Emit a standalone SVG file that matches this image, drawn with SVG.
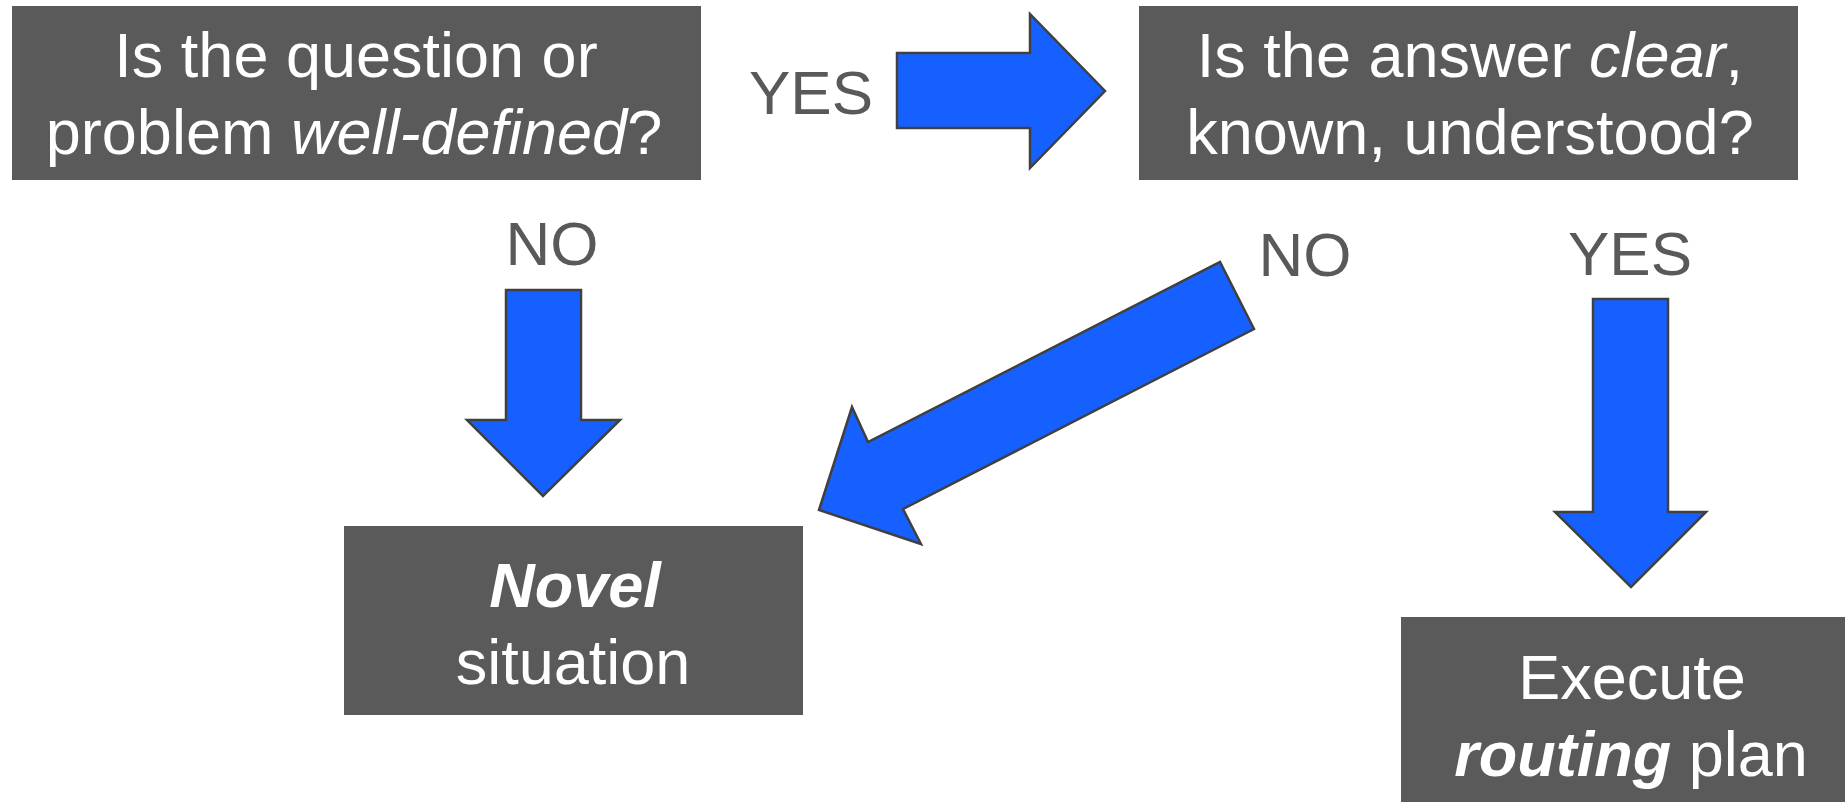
<svg xmlns="http://www.w3.org/2000/svg" width="1845" height="802" viewBox="0 0 1845 802">
<style>
.box{fill:#5a5a5a}
.bt{font-family:"Liberation Sans",Arial,sans-serif;font-size:63px;fill:#ffffff;text-anchor:middle}
.lbl{font-family:"Liberation Sans",Arial,sans-serif;font-size:62px;fill:#595959;text-anchor:middle}
.arrow{fill:#1560ff;stroke:#404040;stroke-width:2.5;stroke-linejoin:miter}
</style>
<rect width="1845" height="802" fill="#ffffff"/>
<g id="q1">
<rect class="box" x="12" y="6" width="689" height="174"/>
<text class="bt" x="356" y="77">Is the question or</text>
<text class="bt" x="354" y="154">problem <tspan font-style="italic">well-defined</tspan>?</text>
</g>
<g id="q2">
<rect class="box" x="1139" y="6" width="659" height="174"/>
<text class="bt" x="1470" y="77">Is the answer <tspan font-style="italic">clear</tspan>,</text>
<text class="bt" x="1470" y="154">known, understood?</text>
</g>
<g id="novel">
<rect class="box" x="344" y="526" width="459" height="189"/>
<text class="bt" x="575" y="607" font-weight="bold" font-style="italic">Novel</text>
<text class="bt" x="573" y="684">situation</text>
</g>
<g id="execute">
<rect class="box" x="1401" y="617" width="470" height="200"/>
<text class="bt" x="1632" y="699">Execute</text>
<text class="bt" x="1631" y="776"><tspan font-weight="bold" font-style="italic">routing</tspan> plan</text>
</g>
<g id="connectors">
<polygon class="arrow" points="897,53 1030,53 1030,14 1105,91 1030,168 1030,128 897,128"/>
<polygon class="arrow" points="506,290 581,290 581,420 620,420 543,496 467,420 506,420"/>
<polygon class="arrow" points="1593,299 1668,299 1668,512 1706,512 1631,587 1555,512 1593,512"/>
<polygon class="arrow" points="819,510 852,407 868,442 1220,262 1254,329 903,509 921,544"/>
<text class="lbl" x="811" y="114">YES</text>
<text class="lbl" x="552" y="265">NO</text>
<text class="lbl" x="1305" y="276">NO</text>
<text class="lbl" x="1630" y="275">YES</text>
</g>
</svg>
